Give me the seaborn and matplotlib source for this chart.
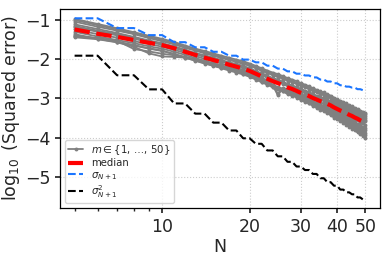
import numpy as np
import pandas as pd
import matplotlib
matplotlib.use("Agg")
import matplotlib.pyplot as plt
import seaborn as sns
from matplotlib.ticker import NullFormatter

# N values (x axis)
N_vals = list(range(5, 51))
N_sigma = list(range(5, 50))

# median of log10 squared error over m
median_err = [-1.24, -1.35, -1.43, -1.51, -1.58, -1.64, -1.72, -1.81, -1.89, -1.96,
              -2.02, -2.08, -2.14, -2.19, -2.24, -2.30, -2.37, -2.44, -2.50, -2.56,
              -2.61, -2.66, -2.72, -2.76, -2.81, -2.86, -2.90, -2.94, -2.99, -3.03,
              -3.07, -3.10, -3.14, -3.18, -3.23, -3.27, -3.31, -3.34, -3.38, -3.42,
              -3.45, -3.49, -3.52, -3.56, -3.59, -3.62]

# individual runs (visually distinct ones in the band)
run_a = [-0.97, -1.10, -1.21, -1.31, -1.40, -1.48, -1.56, -1.65, -1.73, -1.79,
         -1.85, -1.91, -1.96, -2.01, -2.05, -2.11, -2.17, -2.23, -2.29, -2.34,
         -2.38, -2.43, -2.48, -2.52, -2.56, -2.61, -2.65, -2.69, -2.74, -2.78,
         -2.82, -2.85, -2.89, -2.93, -2.98, -3.02, -3.06, -3.09, -3.13, -3.17,
         -3.20, -3.24, -3.27, -3.31, -3.34, -3.37]
run_ab = [-1.00, -1.13, -1.24, -1.34, -1.43, -1.51, -1.59, -1.68, -1.76, -1.82,
          -1.88, -1.94, -2.00, -2.04, -2.09, -2.14, -2.20, -2.27, -2.32, -2.37,
          -2.42, -2.47, -2.52, -2.56, -2.60, -2.65, -2.69, -2.73, -2.78, -2.82,
          -2.86, -2.89, -2.93, -2.97, -3.02, -3.06, -3.10, -3.13, -3.17, -3.21,
          -3.24, -3.28, -3.31, -3.35, -3.38, -3.41]
run_b = [-1.04, -1.17, -1.27, -1.36, -1.46, -1.54, -1.62, -1.71, -1.78, -1.85,
         -1.91, -1.97, -2.02, -2.07, -2.12, -2.17, -2.23, -2.30, -2.35, -2.41,
         -2.45, -2.50, -2.55, -2.59, -2.63, -2.68, -2.72, -2.76, -2.81, -2.85,
         -2.89, -2.92, -2.96, -3.00, -3.05, -3.09, -3.13, -3.16, -3.20, -3.24,
         -3.27, -3.31, -3.34, -3.38, -3.41, -3.44]
run_c = [-1.11, -1.23, -1.33, -1.43, -1.52, -1.59, -1.67, -1.76, -1.84, -1.90,
         -1.96, -2.02, -2.08, -2.12, -2.17, -2.23, -2.30, -2.36, -2.42, -2.48,
         -2.52, -2.57, -2.63, -2.67, -2.71, -2.76, -2.80, -2.84, -2.89, -2.93,
         -2.97, -2.99, -3.03, -3.07, -3.12, -3.16, -3.20, -3.23, -3.27, -3.31,
         -3.34, -3.38, -3.41, -3.45, -3.48, -3.51]
run_cd = [-1.15, -1.27, -1.36, -1.46, -1.54, -1.61, -1.69, -1.78, -1.86, -1.92,
          -1.98, -2.04, -2.10, -2.15, -2.20, -2.26, -2.33, -2.39, -2.45, -2.51,
          -2.55, -2.60, -2.66, -2.70, -2.74, -2.79, -2.83, -2.87, -2.92, -2.96,
          -3.00, -3.03, -3.07, -3.11, -3.16, -3.20, -3.24, -3.27, -3.31, -3.35,
          -3.38, -3.42, -3.45, -3.49, -3.52, -3.55]
run_d = [-1.18, -1.30, -1.39, -1.48, -1.56, -1.63, -1.71, -1.80, -1.88, -1.94,
         -2.00, -2.06, -2.12, -2.17, -2.22, -2.28, -2.35, -2.41, -2.47, -2.53,
         -2.58, -2.63, -2.69, -2.72, -2.77, -2.82, -2.86, -2.90, -2.95, -2.99,
         -3.03, -3.06, -3.10, -3.14, -3.19, -3.23, -3.27, -3.30, -3.34, -3.38,
         -3.41, -3.45, -3.48, -3.52, -3.55, -3.58]
run_e = [-1.24, -1.36, -1.45, -1.54, -1.61, -1.68, -1.76, -1.84, -1.92, -1.99,
         -2.05, -2.11, -2.17, -2.22, -2.27, -2.33, -2.40, -2.47, -2.55, -2.66,
         -2.92, -2.74, -2.76, -2.79, -2.84, -2.89, -2.93, -2.97, -3.02, -3.06,
         -3.10, -3.14, -3.18, -3.22, -3.27, -3.31, -3.35, -3.38, -3.42, -3.46,
         -3.49, -3.53, -3.56, -3.60, -3.64, -3.67]
run_f = [-1.30, -1.42, -1.51, -1.59, -1.67, -1.73, -1.81, -1.89, -1.97, -2.04,
         -2.10, -2.16, -2.21, -2.26, -2.31, -2.37, -2.44, -2.52, -2.58, -2.66,
         -2.88, -2.76, -2.80, -2.84, -2.89, -2.94, -2.98, -3.02, -3.07, -3.12,
         -3.16, -3.19, -3.23, -3.28, -3.33, -3.37, -3.41, -3.45, -3.49, -3.53,
         -3.57, -3.61, -3.65, -3.69, -3.72, -3.76]
run_g = [-1.36, -1.48, -1.56, -1.65, -1.73, -1.79, -1.86, -1.95, -2.02, -2.08,
         -2.14, -2.20, -2.25, -2.30, -2.35, -2.41, -2.48, -2.55, -2.61, -2.68,
         -2.73, -2.78, -2.84, -2.89, -2.94, -2.99, -3.03, -3.08, -3.13, -3.18,
         -3.22, -3.26, -3.30, -3.35, -3.40, -3.44, -3.49, -3.53, -3.58, -3.63,
         -3.67, -3.72, -3.76, -3.81, -3.85, -3.88]
run_gh = [-1.40, -1.47, -1.55, -1.64, -1.72, -1.78, -1.88, -1.96, -2.03, -2.10,
          -2.16, -2.22, -2.27, -2.32, -2.37, -2.43, -2.50, -2.57, -2.63, -2.70,
          -2.75, -2.80, -2.87, -2.91, -2.96, -3.02, -3.06, -3.11, -3.16, -3.21,
          -3.26, -3.30, -3.34, -3.39, -3.45, -3.49, -3.54, -3.58, -3.63, -3.68,
          -3.72, -3.77, -3.82, -3.87, -3.91, -3.94]
run_h = [-1.44, -1.49, -1.57, -1.68, -1.85, -1.93, -1.94, -1.96, -2.04, -2.11,
         -2.17, -2.23, -2.29, -2.34, -2.39, -2.45, -2.52, -2.59, -2.65, -2.72,
         -2.77, -2.82, -2.89, -2.93, -2.98, -3.04, -3.09, -3.13, -3.19, -3.24,
         -3.29, -3.33, -3.38, -3.43, -3.49, -3.53, -3.58, -3.63, -3.68, -3.73,
         -3.77, -3.82, -3.87, -3.92, -3.96, -4.00]
run_i = [-1.40, -1.46, -1.53, -1.74, -1.80, -1.86, -1.90, -1.94, -2.00, -2.06,
         -2.12, -2.18, -2.23, -2.28, -2.33, -2.39, -2.46, -2.53, -2.59, -2.65,
         -2.71, -2.75, -2.81, -2.86, -2.91, -2.96, -3.00, -3.05, -3.10, -3.14,
         -3.18, -3.22, -3.26, -3.31, -3.36, -3.40, -3.45, -3.49, -3.53, -3.58,
         -3.62, -3.66, -3.70, -3.74, -3.78, -3.82]

# singular values
sigma = [-0.955, -0.955, -1.205, -1.205, -1.385, -1.385, -1.565, -1.565, -1.695, -1.695,
         -1.81, -1.81, -1.91, -1.91, -2.01, -2.01, -2.08, -2.08, -2.165, -2.165,
         -2.24, -2.24, -2.31, -2.31, -2.37, -2.37, -2.415, -2.415, -2.465, -2.465,
         -2.52, -2.52, -2.57, -2.57, -2.615, -2.615, -2.665, -2.665, -2.70, -2.70,
         -2.725, -2.725, -2.765, -2.765, -2.79]
sigma_sq = [-1.91, -1.91, -2.41, -2.41, -2.77, -2.77, -3.13, -3.13, -3.39, -3.39,
            -3.62, -3.62, -3.82, -3.82, -4.02, -4.02, -4.16, -4.16, -4.33, -4.33,
            -4.48, -4.48, -4.62, -4.62, -4.74, -4.74, -4.83, -4.83, -4.93, -4.93,
            -5.04, -5.04, -5.14, -5.14, -5.23, -5.23, -5.33, -5.33, -5.40, -5.40,
            -5.45, -5.45, -5.53, -5.53, -5.58]

runs = [run_a, run_ab, run_b, run_c, run_cd, run_d, run_e, run_f,
        run_g, run_gh, run_h, run_i]

sns.set_theme(style="ticks")
plt.rcParams['font.family'] = ['DejaVu Sans']
plt.rcParams['mathtext.fontset'] = 'dejavusans'

fig = plt.figure(figsize=(3.9, 2.6), dpi=100)
ax = fig.add_axes([0.154, 0.2, 0.82, 0.765])

for i, run in enumerate(runs):
    sns.lineplot(x=N_vals, y=run, ax=ax, color='gray', lw=1.3, marker='o',
                 markersize=2.8, markeredgewidth=0,
                 label=r'$m \in \{1,\, \ldots,\, 50\}$' if i == 0 else None)

sns.lineplot(x=N_vals, y=median_err, ax=ax, color='red', lw=3, ls='--', label='median')
sns.lineplot(x=N_sigma, y=sigma, ax=ax, color='#1a75ff', lw=1.5, ls='--',
             label=r'$\sigma_{N+1}$')
sns.lineplot(x=N_sigma, y=sigma_sq, ax=ax, color='black', lw=1.5, ls='--',
             label=r'$\sigma^2_{N+1}$')

ax.set_xscale('log')
ax.set_xticks([10, 20, 30, 40, 50], labels=['10', '20', '30', '40', '50'])
ax.xaxis.set_minor_formatter(NullFormatter())
ax.set_ylim(-5.8, -0.72)
ax.set_yticks([-1, -2, -3, -4, -5])
ax.tick_params(axis='both', which='major', labelsize=12.5, length=3.5)
ax.tick_params(axis='x', which='minor', length=2)
ax.grid(False, which='minor')
ax.grid(True, which='major', ls=':', color='#cccccc', lw=0.8)
for s in ax.spines.values():
    s.set_color('black')
    s.set_linewidth(0.9)

ax.set_xlabel('N', fontsize=12.5, labelpad=2)
ax.set_ylabel(r'$\log_{10}$ (Squared error)', fontsize=12.5, labelpad=2)

ax.legend(loc='lower left', fontsize=7.3, handlelength=1.5, handletextpad=0.8,
          frameon=True, borderpad=0.3, labelspacing=0.15, framealpha=0.8)

fig.savefig('out.png', dpi=100)
